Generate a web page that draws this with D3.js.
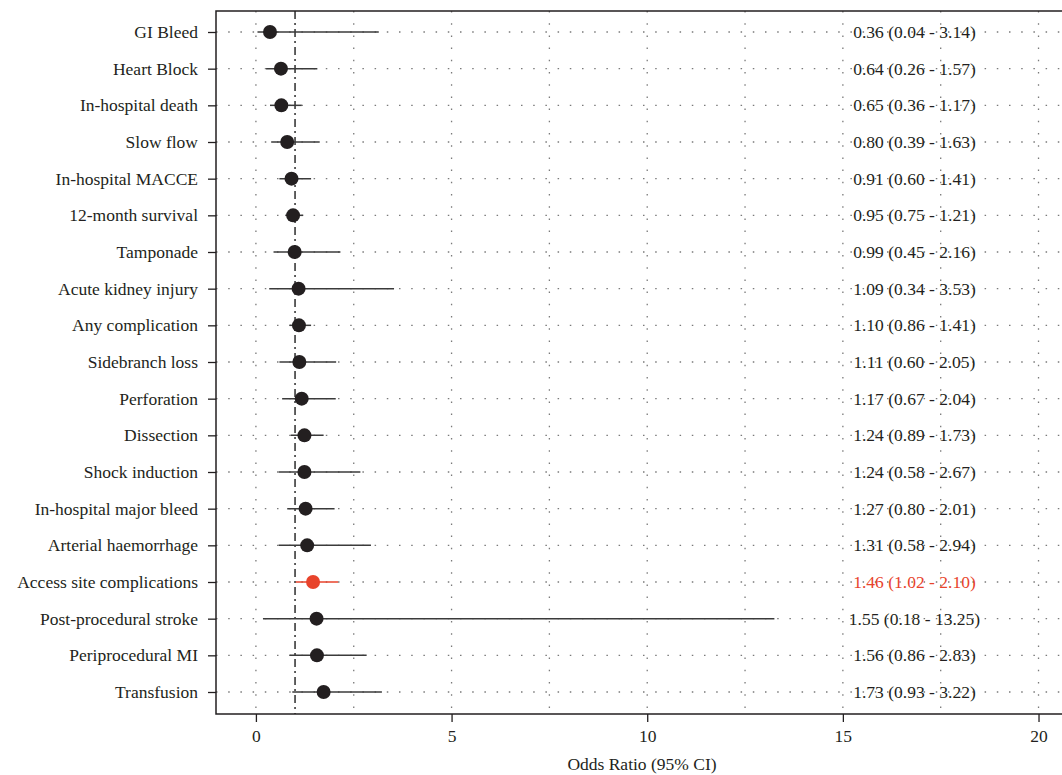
<!DOCTYPE html>
<html><head><meta charset="utf-8">
<script src="https://cdn.jsdelivr.net/npm/d3@7"></script>
<style>body{margin:0;background:#fff}svg{display:block}text{font-family:"Liberation Serif","DejaVu Serif",serif;fill:#231f20}</style>
</head><body><svg id="c" width="1062" height="775"></svg>
<script>
const outcomes = ["GI Bleed","Heart Block","In-hospital death","Slow flow","In-hospital MACCE","12-month survival","Tamponade","Acute kidney injury","Any complication","Sidebranch loss","Perforation","Dissection","Shock induction","In-hospital major bleed","Arterial haemorrhage","Access site complications","Post-procedural stroke","Periprocedural MI","Transfusion"];
const oddsRatio = [0.36,0.64,0.65,0.80,0.91,0.95,0.99,1.09,1.10,1.11,1.17,1.24,1.24,1.27,1.31,1.46,1.55,1.56,1.73];
const ciLower = [0.04,0.26,0.36,0.39,0.60,0.75,0.45,0.34,0.86,0.60,0.67,0.89,0.58,0.80,0.58,1.02,0.18,0.86,0.93];
const ciUpper = [3.14,1.57,1.17,1.63,1.41,1.21,2.16,3.53,1.41,2.05,2.04,1.73,2.67,2.01,2.94,2.10,13.25,2.83,3.22];
const highlighted = [false,false,false,false,false,false,false,false,false,false,false,false,false,false,false,true,false,false,false];
const xTicks = [0,5,10,15,20];
const xMinorGrid = [2.5,7.5,12.5,17.5];
const refValue = 1;
const labelPosition = 16.83;
const xTitle = "Odds Ratio (95% CI)";

const svg = d3.select("#c");
const pLeft = 216, pRight = 1062, pTop = 11, pBottom = 714;
const x = d3.scaleLinear().domain([-1.02, 20.6]).range([pLeft, pRight]);
const y = d3.scalePoint().domain(outcomes).range([32, 692]);
const fmt = d3.format(".2f");
const dark = "#231f20", red = "#e8432b", grid = "#7a7a7a";
const fs = 17.5;

const g = svg.append("g");
const dots = "1.5 10.7";
g.selectAll(".vg").data(xTicks.concat(xMinorGrid)).join("line")
  .attr("x1", d => x(d)).attr("x2", d => x(d)).attr("y1", pTop).attr("y2", pBottom)
  .attr("stroke", grid).attr("stroke-width", 1.3).attr("stroke-dasharray", dots);
g.selectAll(".hg").data(outcomes).join("line")
  .attr("x1", pLeft).attr("x2", pRight).attr("y1", d => y(d)).attr("y2", d => y(d))
  .attr("stroke", grid).attr("stroke-width", 1.3).attr("stroke-dasharray", dots);
g.append("line").attr("x1", x(refValue)).attr("x2", x(refValue)).attr("y1", pTop).attr("y2", pBottom)
  .attr("stroke", "#3a3a3a").attr("stroke-width", 1.6).attr("stroke-dasharray", "8 4 2 4");

const rows = outcomes.map((o, i) => ({o, or: oddsRatio[i], lo: ciLower[i], hi: ciUpper[i], hl: highlighted[i]}));
g.selectAll(".ci").data(rows).join("line")
  .attr("x1", d => x(d.lo)).attr("x2", d => x(d.hi)).attr("y1", d => y(d.o)).attr("y2", d => y(d.o))
  .attr("stroke", d => d.hl ? red : "#3b3b3b").attr("stroke-width", 1.5);
g.selectAll(".pt").data(rows).join("circle")
  .attr("cx", d => x(d.or)).attr("cy", d => y(d.o)).attr("r", 7)
  .attr("fill", d => d.hl ? red : dark);
g.selectAll(".lab").data(rows).join("text")
  .attr("x", x(labelPosition)).attr("y", d => y(d.o)).attr("dy", "0.35em")
  .attr("text-anchor", "middle").attr("font-size", fs)
  .style("fill", d => d.hl ? red : dark)
  .text(d => `${fmt(d.or)} (${fmt(d.lo)} - ${fmt(d.hi)})`);

g.append("path").attr("d", `M${pRight},${pTop}H${pLeft}V${pBottom}H${pRight}`)
  .attr("fill", "none").attr("stroke", dark).attr("stroke-width", 1.5);

const xa = svg.append("g").attr("transform", `translate(0,${pBottom})`)
  .call(d3.axisBottom(x).tickValues(xTicks).tickSize(8).tickPadding(8));
xa.select(".domain").remove();
xa.selectAll("line").attr("stroke", dark).attr("stroke-width", 1.3);
xa.selectAll("text").attr("font-size", fs).style("font-family", '"Liberation Serif",serif').style("fill", dark);

const ya = svg.append("g").attr("transform", `translate(${pLeft},0)`)
  .call(d3.axisLeft(y).tickSize(8).tickPadding(10));
ya.select(".domain").remove();
ya.selectAll("line").attr("stroke", dark).attr("stroke-width", 1.3);
ya.selectAll("text").attr("font-size", fs).style("font-family", '"Liberation Serif",serif').style("fill", dark);

svg.append("text").attr("x", (pLeft + pRight) / 2 + 3).attr("y", 770)
  .attr("text-anchor", "middle").attr("font-size", fs).text(xTitle);
</script></body></html>
